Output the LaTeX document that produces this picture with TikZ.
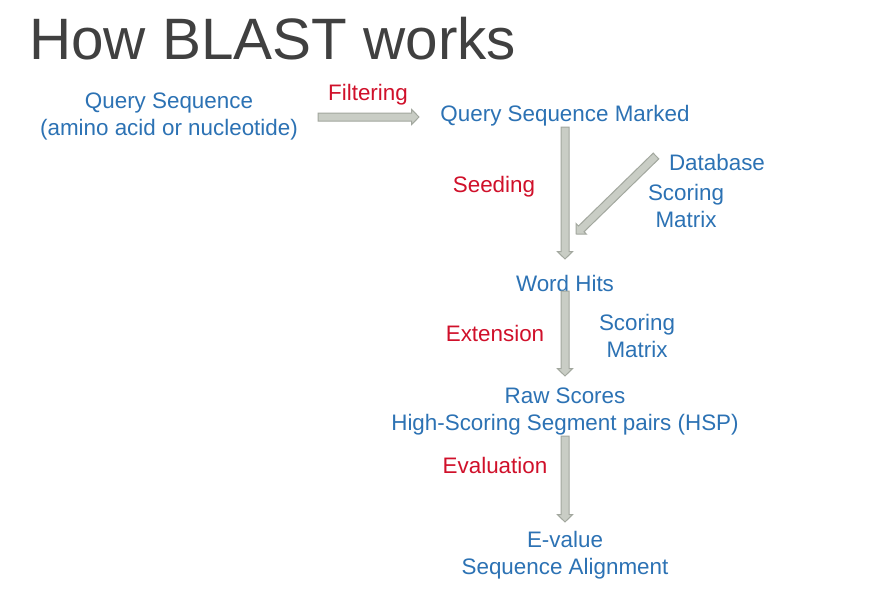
\documentclass[tikz,border=0pt]{standalone}
\usepackage{fontspec}
\setmainfont{Liberation Sans}
\usetikzlibrary{calc}
\definecolor{tblue}{HTML}{2C72B4}
\definecolor{tred}{HTML}{D0102A}
\definecolor{ttitle}{HTML}{404040}
\definecolor{afill}{HTML}{C9CDC5}
\definecolor{aline}{HTML}{A2A79E}
\tikzset{
  lbl/.style={text=tblue, font=\fontsize{16.8}{20.25}\selectfont, inner sep=0pt, align=center},
  step lbl/.style={text=tred, font=\fontsize{16.8}{20.25}\selectfont, inner sep=0pt},
  blockarrow/.style={draw=aline, fill=afill, line width=0.75pt, line join=miter}
}
\newcommand\blockarr[2]{%
  \path let \p1=($(#2)-(#1)$), \n1={atan2(\y1,\x1)}, \n2={veclen(\x1,\y1)} in
    \pgfextra{\xdef\barang{\n1}\xdef\barlen{\n2}};
  \draw[blockarrow, shift={(#1)}, rotate=\barang]
    (0pt,-3pt) -- (\barlen-5.5pt,-3pt) -- (\barlen-5.5pt,-5.6pt) -- (\barlen,0pt)
    -- (\barlen-5.5pt,5.6pt) -- (\barlen-5.5pt,3pt) -- (0pt,3pt) -- cycle;
}
\begin{document}
\begin{tikzpicture}[x=0.75pt, y=-0.75pt]
\useasboundingbox[fill=white] (0,0) rectangle (876,593);
\node[anchor=base west, inner sep=0pt, text=ttitle, font=\fontsize{43.8}{50}\selectfont] (title) at (29,59) {How BLAST works};

\node[lbl] (qs) at (169,116) {Query Sequence\\(amino acid or nucleotide)};
\node[step lbl] (filt) at (368,95) {Filtering};
\node[lbl] (qsm) at (565,116) {Query Sequence Marked};
\node[step lbl] (seed) at (494,187) {Seeding};
\node[lbl] (db) at (717,162) {Database};
\node[lbl] (sm1) at (686,206) {Scoring\\Matrix};
\node[lbl] (wh) at (565,283) {Word Hits};
\node[step lbl] (ext) at (495,333) {Extension};
\node[lbl] (sm2) at (637,336) {Scoring\\Matrix};
\node[lbl] (raw) at (565,411) {Raw Scores\\High-Scoring Segment pairs (HSP)};
\node[step lbl] (eval) at (495,465) {Evaluation};
\node[lbl] (ev) at (565,555) {E-value\\Sequence Alignment};

\coordinate (h1) at (318,117);
\coordinate (h2) at (419,117);
\coordinate (v1a) at (565,127);
\coordinate (v1b) at (565,259);
\coordinate (d1) at (656,156);
\coordinate (d2) at (576,234);
\coordinate (v2a) at (565,291);
\coordinate (v2b) at (565,376);
\coordinate (v3a) at (565,436);
\coordinate (v3b) at (565,522);

\blockarr{h1}{h2}
\blockarr{v1a}{v1b}
\blockarr{d1}{d2}
\blockarr{v2a}{v2b}
\blockarr{v3a}{v3b}
\end{tikzpicture}
\end{document}
